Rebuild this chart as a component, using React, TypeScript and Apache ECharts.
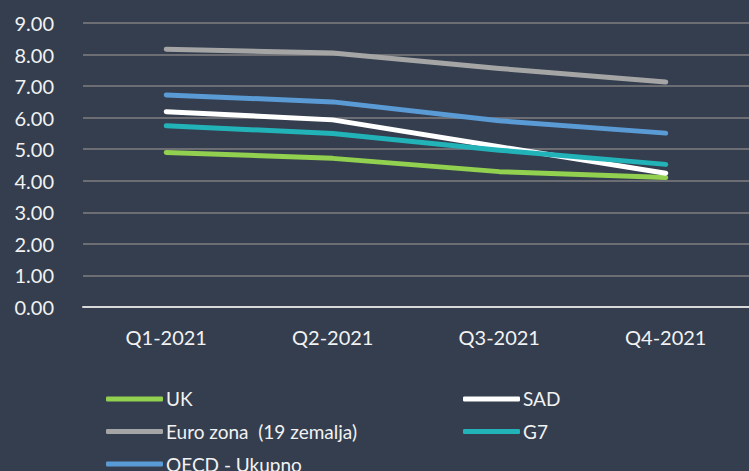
import React, { useEffect, useRef } from "react";
import * as echarts from "echarts";

const categories = ["Q1-2021", "Q2-2021", "Q3-2021", "Q4-2021"];
const uk = [4.9, 4.71, 4.29, 4.1];
const sad = [6.19, 5.93, 5.08, 4.24];
const euro = [8.17, 8.05, 7.56, 7.13];
const g7 = [5.74, 5.5, 4.97, 4.52];
const oecd = [6.72, 6.5, 5.9, 5.51];

const names = ["UK", "SAD", "Euro zona  (19 zemalja)", "G7", "OECD - Ukupno"];
const colors = ["#92D050", "#FFFFFF", "#A5A5A5", "#22B3B8", "#5B9BD5"];

const FONT = "Lato";
const TEXT = "#F2F2F2";

export default function App() {
  const ref = useRef<HTMLDivElement>(null);
  useEffect(() => {
    if (!ref.current) return;
    const chart = echarts.init(ref.current, undefined, { renderer: "svg" });
    const data = [uk, sad, euro, g7, oecd];
    const legendCommon = {
      orient: "vertical" as const,
      icon: "roundRect",
      itemWidth: 57,
      itemHeight: 5,
      itemGap: 13.6,
      height: 100,
      textStyle: { color: TEXT, fontSize: 19, fontFamily: FONT, lineHeight: 16, padding: [0, 0, 0, -2] },
      padding: 0,
      selectedMode: false,
    };
    chart.setOption({
      animation: false,
      backgroundColor: "#343E4F",
      grid: { left: 83, right: 0, top: 23, bottom: 164, containLabel: false },
      legend: [
        { ...legendCommon, left: 106, top: 389.4, data: [names[0], names[2], names[4]] },
        { ...legendCommon, left: 463, top: 389.4, data: [names[1], names[3]] },
      ],
      xAxis: {
        type: "category",
        data: categories,
        boundaryGap: true,
        axisLine: { show: true, lineStyle: { color: "#D9D9D9", width: 2 } },
        axisTick: { show: false },
        axisLabel: { color: TEXT, fontSize: 20, fontFamily: FONT, margin: 20 },
      },
      yAxis: {
        type: "value",
        min: 0,
        max: 9,
        interval: 1,
        axisLine: { show: false },
        axisTick: { show: false },
        axisLabel: {
          color: TEXT,
          fontSize: 20,
          fontFamily: FONT,
          margin: 29,
          formatter: (v: number) => v.toFixed(2),
        },
        splitLine: { lineStyle: { color: "#7F7F7F", width: 1.5 } },
      },
      series: names.map((n, i) => ({
        name: n,
        type: "line",
        data: data[i],
        symbol: "none",
        color: colors[i],
        lineStyle: { width: 5, color: colors[i], cap: "round", join: "round" },
      })),
    });
    return () => chart.dispose();
  }, []);
  return <div ref={ref} style={{ width: 749, height: 471, position: "absolute", left: 0, top: 0 }} />;
}
